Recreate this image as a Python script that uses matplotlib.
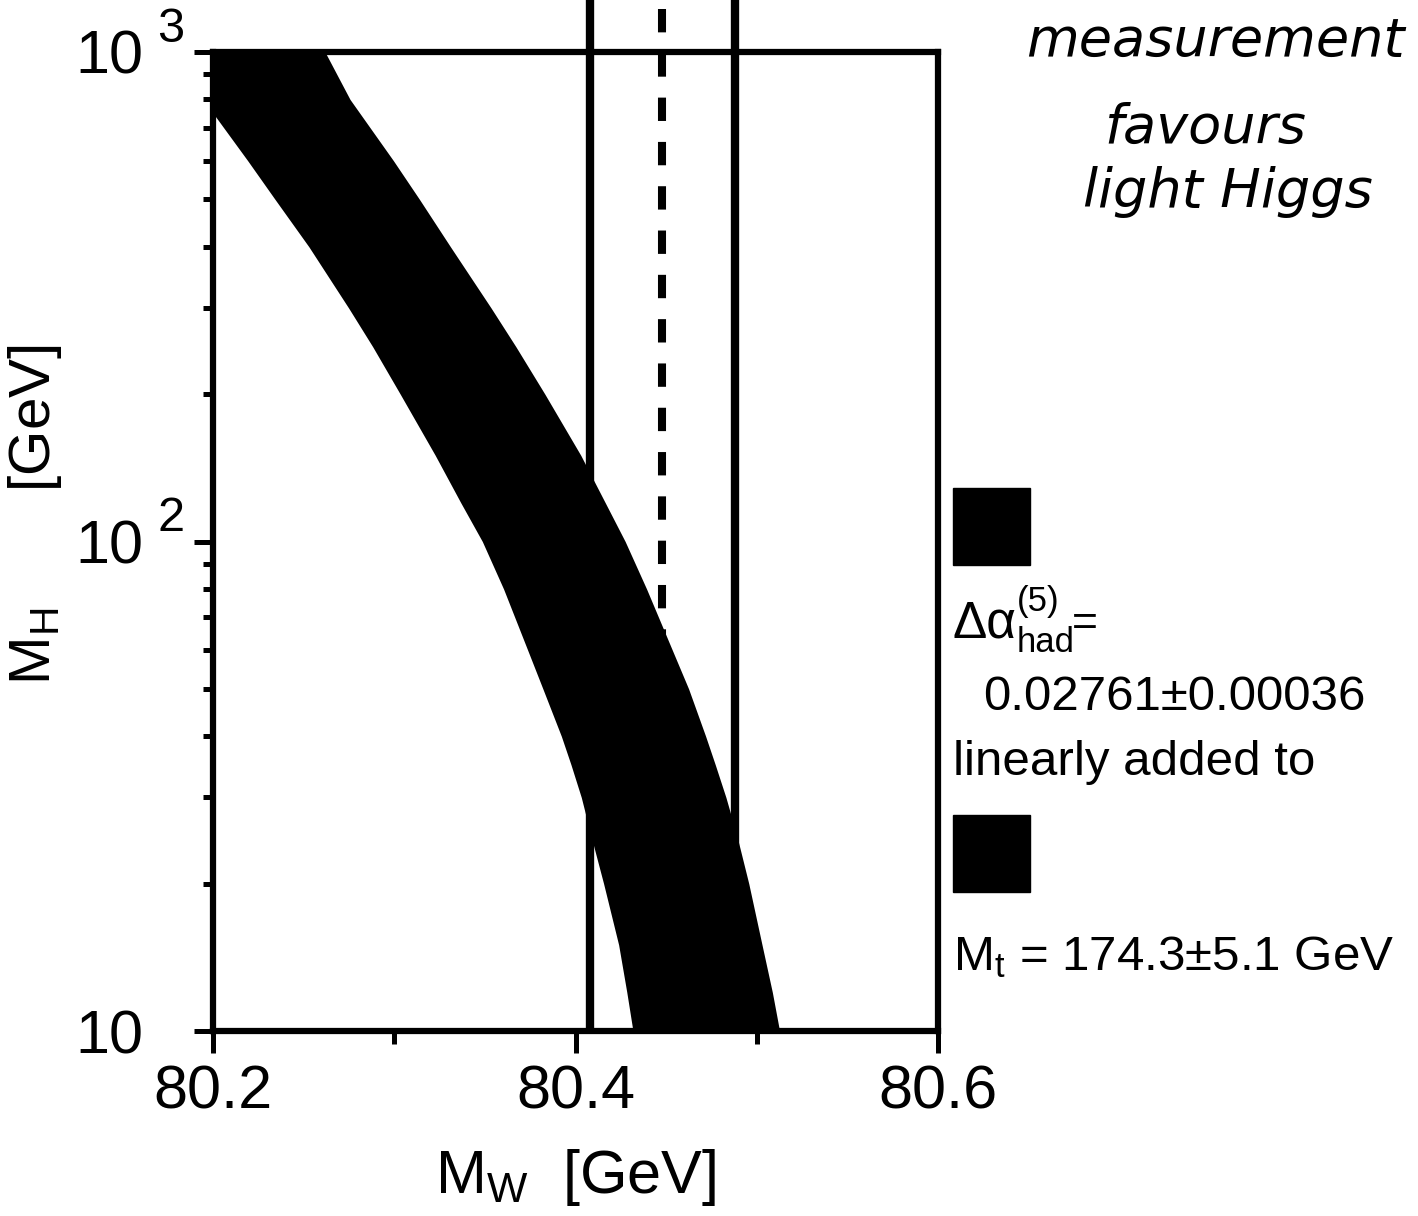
import matplotlib
matplotlib.use("Agg")
import matplotlib.pyplot as plt
from matplotlib.patches import Rectangle
from matplotlib.ticker import FixedLocator, LogLocator, NullFormatter, FixedFormatter

plt.rcParams['font.family'] = ['Liberation Sans', 'DejaVu Sans']

# ---- data ----
mh = [1000, 800, 600, 500, 400, 300, 250, 200, 150, 120, 100, 80, 60, 50, 40, 35,
      30, 25, 20, 15, 12, 10]
mw_low = [80.175, 80.1945, 80.2191, 80.2342, 80.2529, 80.2748, 80.2881, 80.3033,
          80.3226, 80.3367, 80.3486, 80.3603, 80.3736, 80.3820, 80.3922, 80.3975,
          80.4032, 80.4086, 80.4155, 80.4238, 80.4283, 80.4317]
mw_high = [80.2618, 80.2756, 80.2995, 80.3139, 80.3310, 80.3534, 80.3671, 80.3831,
           80.4029, 80.4164, 80.4274, 80.4392, 80.4534, 80.4624, 80.4718, 80.4771,
           80.4830, 80.4891, 80.4956, 80.5029, 80.5086, 80.5126]
mw_meas = 80.448
mw_meas_lo = 80.408
mw_meas_hi = 80.488

x_ticks = [80.2, 80.4, 80.6]
x_ticklabels = ["80.2", "80.4", "80.6"]
x_minor = [80.3, 80.5]
y_ticks = [10, 100, 1000]
y_ticklabels = ["10", "10", "10"]
y_exponents = ["", "2", "3"]

W, H = 1418, 1216
fig = plt.figure(figsize=(W / 100, H / 100), dpi=100)
ax = fig.add_axes([213 / W, 1 - 1031 / H, (938 - 213) / W, (1031 - 52) / H])
ax.set_yscale('log')
ax.set_xlim(80.2, 80.6)
ax.set_ylim(10, 1000)

# band
ax.fill_betweenx(mh, mw_low, mw_high, color='black', linewidth=0, zorder=3)

# measurement lines (extend above the frame)
tr = ax.get_xaxis_transform()
top_frac = 1 + 52 / 979
for xv in (mw_meas_lo, mw_meas_hi):
    ax.plot([xv, xv], [0, top_frac], transform=tr, color='black', lw=6,
            solid_capstyle='butt', clip_on=False, zorder=2)
ax.plot([mw_meas, mw_meas], [1 + 43 / 979, 0], transform=tr, color='black', lw=5.8,
        dashes=(2.9, 2.6), clip_on=False, zorder=2)

# spines & ticks
for s in ax.spines.values():
    s.set_linewidth(4.5)
    s.set_zorder(4)
ax.xaxis.set_major_locator(FixedLocator(x_ticks))
ax.xaxis.set_major_formatter(FixedFormatter(x_ticklabels))
ax.xaxis.set_minor_locator(FixedLocator(x_minor))
ax.yaxis.set_major_locator(FixedLocator(y_ticks))
ax.yaxis.set_major_formatter(FixedFormatter(y_ticklabels))
ax.yaxis.set_minor_locator(LogLocator(base=10, subs=[2, 3, 4, 5, 6, 7, 8, 9]))
ax.yaxis.set_minor_formatter(NullFormatter())
ax.tick_params(axis='x', which='major', direction='out', length=16, width=3.6,
               labelsize=44, pad=8)
ax.tick_params(axis='x', which='minor', direction='out', length=9, width=3.6)
ax.tick_params(axis='y', which='major', direction='out', length=14, width=3.6,
               labelsize=44, pad=36)
ax.tick_params(axis='y', which='minor', direction='out', length=7, width=3.6)
ax.tick_params(top=False, right=False, which='both')

# exponents of y tick labels
ytr = ax.get_yaxis_transform()
for yv, ex in zip(y_ticks, y_exponents):
    if ex:
        ax.annotate(ex, xy=(-(213 - 171) / 725, yv), xycoords=ytr,
                    xytext=(0, 23 * 0.72), textcoords='offset points',
                    ha='center', va='center', fontsize=35, annotation_clip=False)

# axis labels
ax.set_xlabel(r'$\mathregular{M_W}$  [GeV]', fontsize=44)
ax.xaxis.label.set_va('baseline')
ax.xaxis.set_label_coords(0.5, (1031 - 1193) / 979)
ax.set_ylabel(r'$\mathregular{M_H}$       [GeV]', fontsize=42)
ax.yaxis.label.set_va('center')
ax.yaxis.set_label_coords((35 - 213) / 725, (1031 - 515) / 979)


def ftext(x, y, s, **kw):
    return fig.text(x / W, 1 - y / H, s, **kw)


# legend-like annotation on the right
fig.patches.append(Rectangle((953 / W, 1 - 565 / H), 77 / W, 77 / H,
                             transform=fig.transFigure, color='black'))
fig.patches.append(Rectangle((953 / W, 1 - 892 / H), 77 / W, 77 / H,
                             transform=fig.transFigure, color='black'))
ftext(953, 637, "Δα", fontsize=37, va='baseline', ha='left')
ftext(1017, 611, "(5)", fontsize=25, va='baseline', ha='left')
ftext(1017, 652, "had", fontsize=25, va='baseline', ha='left')
ftext(1072, 624, "=", fontsize=32, va='center', ha='left')
ftext(983, 710, "0.02761±0.00036", fontsize=35.5, va='baseline', ha='left')
ftext(953, 775, "linearly added to", fontsize=35.5, va='baseline', ha='left')
ftext(953, 970, r'$\mathregular{M_t}$ = 174.3±5.1 GeV', fontsize=35.5,
      va='baseline', ha='left')

# handwritten note
note_kw = dict(fontsize=39, family='DejaVu Sans', style='oblique', ha='center',
               va='center')
ftext(1215, 42, "measurement", **note_kw)
ftext(1205, 128, "favours", **note_kw)
ftext(1228, 192, "light Higgs", **note_kw)

fig.savefig("out.png", dpi=100)
